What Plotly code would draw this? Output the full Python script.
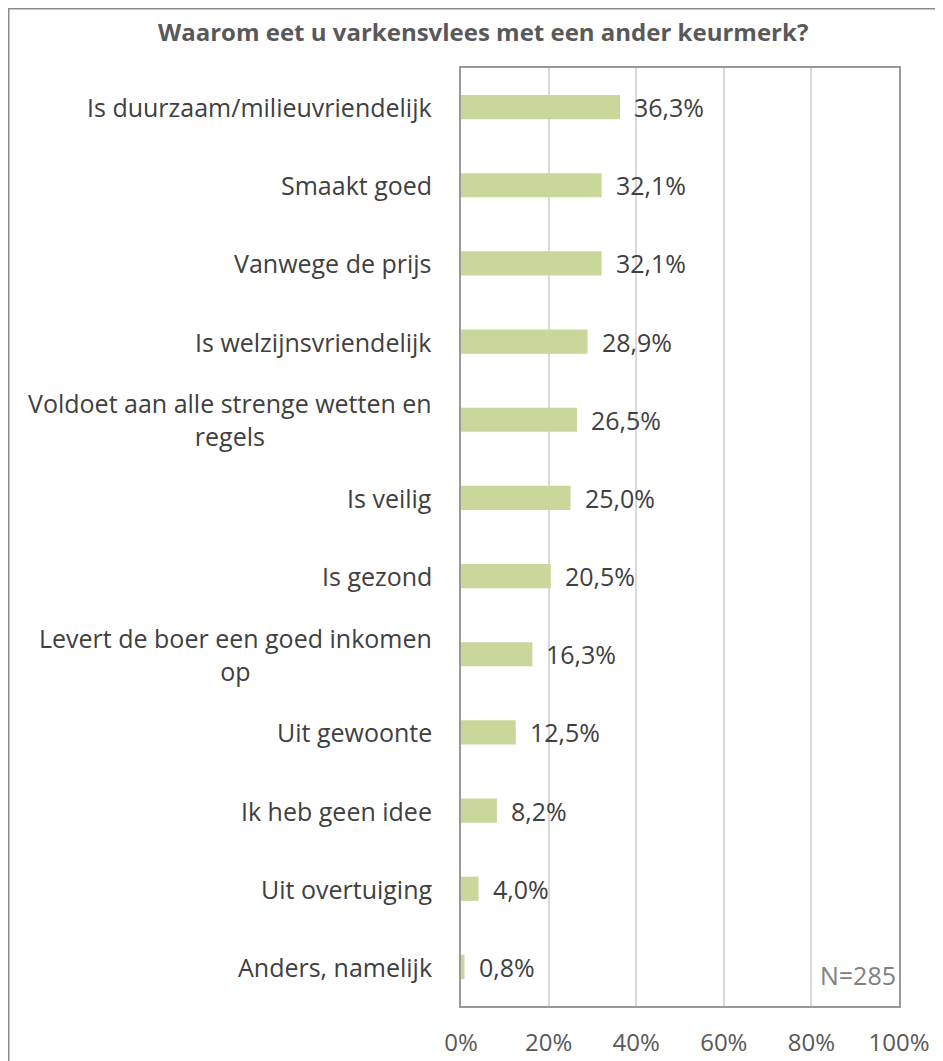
import plotly.graph_objects as go

categories = [
    "Is duurzaam/milieuvriendelijk",
    "Smaakt goed",
    "Vanwege de prijs",
    "Is welzijnsvriendelijk",
    "Voldoet aan alle strenge wetten en<br>regels",
    "Is veilig",
    "Is gezond",
    "Levert de boer een goed inkomen<br>op",
    "Uit gewoonte",
    "Ik heb geen idee",
    "Uit overtuiging",
    "Anders, namelijk",
]
values = [36.3, 32.1, 32.1, 28.9, 26.5, 25.0, 20.5, 16.3, 12.5, 8.2, 4.0, 0.8]
tick_vals = [0, 20, 40, 60, 80, 100]
tick_text = ["0%", "20%", "40%", "60%", "80%", "100%"]
title_text = "Waarom eet u varkensvlees met een ander keurmerk?"
note_text = "N=285"

FONT = "Open Sans"
W, H = 935, 1053          # page has an 8px body margin
ML, MR, MT, MB = 453, 44, 60, 55
pw = W - ML - MR
ph = H - MT - MB

fig = go.Figure()
fig.add_trace(go.Bar(
    x=values, y=categories, orientation="h",
    marker=dict(color="#c9d79a", line=dict(width=0)),
    width=0.31, hoverinfo="skip",
))

for c, v in zip(categories, values):
    fig.add_annotation(
        x=v, y=c, xref="x", yref="y", xanchor="left", yanchor="middle",
        xshift=12, showarrow=False,
        text=f"{v:.1f}%".replace(".", ","),
        font=dict(family=FONT, size=25, color="#404040"),
    )
    fig.add_annotation(
        x=0, y=c, xref="paper", yref="y", xanchor="right", yanchor="middle",
        xshift=-27, showarrow=False, align="center",
        text=c,
        font=dict(family=FONT, size=25, color="#404040"),
    )

fig.add_annotation(
    x=0.5, y=1, xref="paper", yref="paper", xanchor="center", yanchor="middle",
    xshift=-197, yshift=37, showarrow=False,
    text=f"<b>{title_text}</b>",
    font=dict(family=FONT, size=24, color="#595959"),
)
fig.add_annotation(
    x=1, y=0, xref="paper", yref="paper", xanchor="right", yanchor="middle",
    xshift=-1, yshift=31, showarrow=False, text=note_text,
    font=dict(family=FONT, size=25, color="#808080"),
)

# outer chart frame
fig.add_shape(
    type="rect", xref="paper", yref="paper",
    x0=(0.75 - ML) / pw, x1=(933 - ML) / pw,
    y0=-0.2, y1=(H - MB - 0.75) / ph,
    line=dict(color="#8c8c8c", width=1.5), fillcolor="rgba(0,0,0,0)", layer="below",
)

fig.update_layout(
    width=W, height=H,
    margin=dict(l=ML, r=MR, t=MT, b=MB, autoexpand=False),
    paper_bgcolor="white", plot_bgcolor="white",
    showlegend=False,
    xaxis=dict(
        range=[0, 100], tickvals=tick_vals, ticktext=tick_text,
        showgrid=True, gridcolor="#d9d9d9", gridwidth=1.5,
        showline=True, linecolor="#999999", linewidth=1.5, mirror=True,
        zeroline=False, ticks="", ticklabelstandoff=14, automargin=False,
        tickfont=dict(family=FONT, size=24, color="#595959"),
        fixedrange=True,
    ),
    yaxis=dict(
        categoryorder="array", categoryarray=categories[::-1],
        showticklabels=False, showgrid=False, automargin=False,
        showline=True, linecolor="#999999", linewidth=1.5, mirror=True,
        zeroline=False, ticks="",
    ),
)

fig.write_html("out.html")
